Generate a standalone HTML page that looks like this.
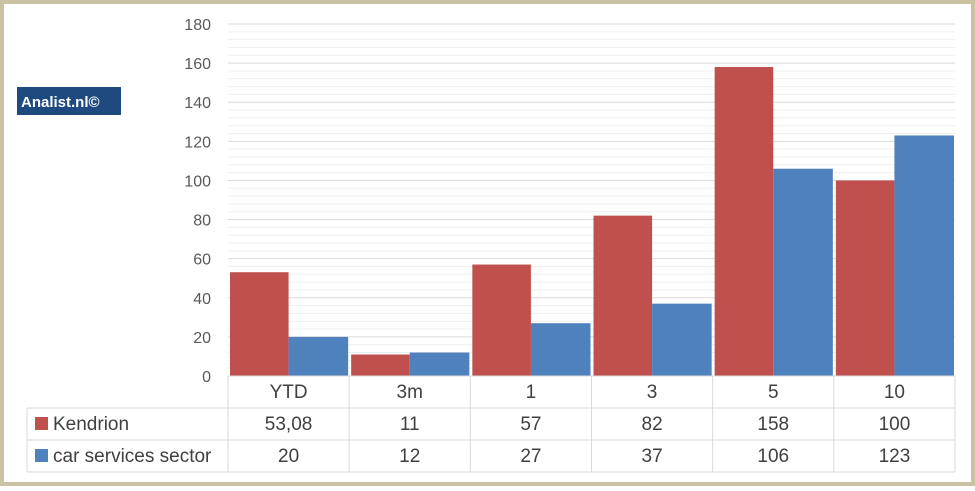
<!DOCTYPE html>
<html><head><meta charset="utf-8"><style>
html,body{margin:0;padding:0;background:#fff}
svg text{font-family:"Liberation Sans",sans-serif}
</style></head><body>
<svg width="975" height="486" xmlns="http://www.w3.org/2000/svg">
<rect x="2" y="2" width="971" height="482" fill="#fff" stroke="#c9c3a3" stroke-width="4"/>
<g id="grid"></g><g id="bars"></g><g id="table"></g>
<rect x="17" y="87" width="104" height="28" fill="#1f4a7f"/>
<text x="21" y="107" font-size="15" font-weight="bold" fill="#fff">Analist.nl©</text>
</svg>
<script>
const categories=["YTD","3m","1","3","5","10"];
const kendrion=[53.08,11,57,82,158,100];
const sector=[20,12,27,37,106,123];
const kLabels=["53,08","11","57","82","158","100"];
const sLabels=["20","12","27","37","106","123"];
const ticks=[0,20,40,60,80,100,120,140,160,180];
const ns="http://www.w3.org/2000/svg";
const X0=228,X1=955,Y0=376,Y1=24,MAX=180;
const cw=(X1-X0)/categories.length;
const y=v=>Y0-(v/MAX)*(Y0-Y1);
function mk(t,a,p){const e=document.createElementNS(ns,t);for(const k in a)e.setAttribute(k,a[k]);p.appendChild(e);return e;}
const g=document.getElementById('grid'),b=document.getElementById('bars'),tb=document.getElementById('table');
for(let v=0;v<=MAX;v+=4){const l=mk('line',{x1:X0,x2:X1,y1:y(v),y2:y(v),stroke:v%20==0?'#d9d9d9':'#efefef','stroke-width':1},g);

}
ticks.forEach(v=>{const t=mk('text',{x:211,y:y(v)+6,'text-anchor':'end','font-size':16,fill:'#595959'},g);t.textContent=v;

});
categories.forEach((c,i)=>{
const bx=X0+i*cw;
const r1=mk('rect',{x:bx+2,y:y(kendrion[i]),width:cw/2-2,height:Y0-y(kendrion[i]),fill:'#c0504d'},b);


const r2=mk('rect',{x:bx+cw/2,y:y(sector[i]),width:cw/2-1,height:Y0-y(sector[i]),fill:'#4f81bd'},b);


[[c,398],[kLabels[i],430],[sLabels[i],462]].forEach(([s,yy])=>{const t=mk('text',{x:bx+cw/2,y:yy,'text-anchor':'middle','font-size':19,fill:'#404040'},tb);t.textContent=s;

});
});
const lc='#d9d9d9';
[[X0,376,X1,376],[27,408,X1,408],[27,440,X1,440],[27,472,X1,472],[27,408,27,472]].forEach(a=>{const l=mk('line',{x1:a[0],y1:a[1],x2:a[2],y2:a[3],stroke:lc},tb);

});
for(let i=0;i<=categories.length;i++){const l=mk('line',{x1:X0+i*cw,x2:X0+i*cw,y1:376,y2:472,stroke:lc},tb);

}
[['#c0504d','Kendrion',424],['#4f81bd','car services sector',456]].forEach(([col,txt,yy])=>{
const s=mk('rect',{x:35,y:yy-7,width:13,height:13,fill:col},tb);


const t=mk('text',{x:53,y:yy+6,'font-size':19,fill:'#404040'},tb);t.textContent=txt;

});
</script>
</body></html>
